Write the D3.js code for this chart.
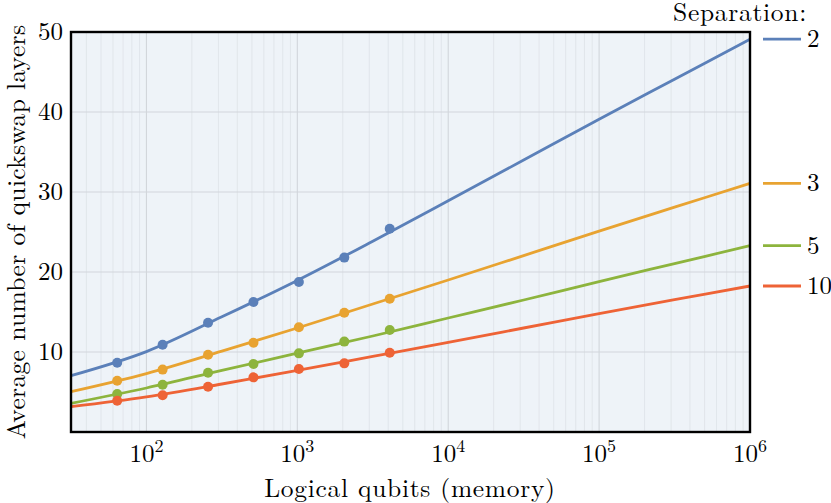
<!DOCTYPE html>
<html>
<head>
<meta charset="utf-8">
<script src="https://cdn.jsdelivr.net/npm/d3@7"></script>
<style>
  body { margin: 0; background: #fff; }
</style>
</head>
<body>
<svg width="831" height="503"></svg>
<script>
const width = 831;
const height = 503;
const font = "'Latin Modern Roman', 'DejaVu Serif', serif";

// logical qubits where the averages were measured
const sizes = [64, 128, 256, 512, 1024, 2048, 4096];
const separations = ["2", "3", "5", "10"];
const colors = ["#5b80b9", "#e8a331", "#8db43d", "#ee6336"];

// measured averages, one array per separation
const measured2 = [8.66, 10.9, 13.66, 16.25, 18.75, 21.8, 25.4];
const measured3 = [6.4, 7.8, 9.66, 11.16, 13.1, 14.9, 16.66];
const measured5 = [4.75, 5.9, 7.4, 8.5, 9.83, 11.3, 12.75];
const measured10 = [3.9, 4.6, 5.66, 6.83, 7.87, 8.58, 9.91];

// fitted curves, read every half decade from 10^1.5 to 10^6
const fitQubits = [31.62, 100, 316.2, 1000, 3162, 1e4, 31620, 1e5, 316200, 1e6];
const fit2 = [7.04, 10.05, 14.4, 18.95, 23.85, 28.9, 34.0, 39.1, 44.1, 49.1];
const fit3 = [5.04, 7.3, 10.1, 13.0, 16.0, 19.0, 22.05, 25.1, 28.1, 31.08];
const fit5 = [3.58, 5.5, 7.7, 9.85, 12.0, 14.25, 16.5, 18.8, 21.05, 23.3];
const fit10 = [3.17, 4.4, 6.0, 7.7, 9.45, 11.2, 13.0, 14.8, 16.55, 18.25];

const yTicks = [10, 20, 30, 40, 50];
const xTicks = [1e2, 1e3, 1e4, 1e5, 1e6];
const xTickExp = ["2", "3", "4", "5", "6"];

const measured = [measured2, measured3, measured5, measured10];
const fits = [fit2, fit3, fit5, fit10];

const margin = { left: 71, right: 81, top: 32, bottom: 71 };

const x = d3.scaleLog()
  .domain([Math.pow(10, 1.5), 1e6])
  .range([margin.left, width - margin.right]);

const y = d3.scaleLinear()
  .domain([0, 50])
  .range([height - margin.bottom, margin.top]);

const svg = d3.select('svg')
  .attr('font-family', font);

// plot background
svg.append('rect')
  .attr('x', x.range()[0])
  .attr('y', y.range()[1])
  .attr('width', x.range()[1] - x.range()[0])
  .attr('height', y.range()[0] - y.range()[1])
  .attr('fill', '#eef3f8');

// minor x grid
const minorTicks = [];
for (let e = 1; e < 6; e++) {
  for (let m = 2; m <= 9; m++) {
    const v = m * Math.pow(10, e);
    if (v > x.domain()[0] && v < x.domain()[1]) minorTicks.push(v);
  }
}

const grid = svg.append('g');
grid.selectAll('.minor')
  .data(minorTicks)
  .enter().append('line')
    .attr('x1', d => x(d)).attr('x2', d => x(d))
    .attr('y1', y.range()[0]).attr('y2', y.range()[1])
    .attr('stroke', '#dde2e7')
    .attr('stroke-width', 0.8);

grid.selectAll('.major')
  .data(xTicks)
  .enter().append('line')
    .attr('x1', d => x(d)).attr('x2', d => x(d))
    .attr('y1', y.range()[0]).attr('y2', y.range()[1])
    .attr('stroke', '#d2d6db')
    .attr('stroke-width', 1.1);

grid.selectAll('.ygrid')
  .data(yTicks)
  .enter().append('line')
    .attr('x1', x.range()[0]).attr('x2', x.range()[1])
    .attr('y1', d => y(d)).attr('y2', d => y(d))
    .attr('stroke', '#d2d6db')
    .attr('stroke-width', 1.1);

// fitted curves
const line = d3.line()
  .x(d => x(d[0]))
  .y(d => y(d[1]))
  .curve(d3.curveCatmullRom);

svg.append('g')
  .selectAll('path')
  .data(fits)
  .enter().append('path')
    .attr('d', f => line(f.map((v, i) => [fitQubits[i], v])))
    .attr('fill', 'none')
    .attr('stroke', (f, i) => colors[i])
    .attr('stroke-width', 2.8);

// measured points
measured.forEach((series, i) => {
  svg.append('g')
    .selectAll('circle')
    .data(series)
    .enter().append('circle')
      .attr('cx', (d, j) => x(sizes[j]))
      .attr('cy', d => y(d))
      .attr('r', 5)
      .attr('fill', colors[i]);
});

// frame
svg.append('rect')
  .attr('x', x.range()[0])
  .attr('y', y.range()[1])
  .attr('width', x.range()[1] - x.range()[0])
  .attr('height', y.range()[0] - y.range()[1])
  .attr('fill', 'none')
  .attr('stroke', '#000')
  .attr('stroke-width', 2.4);

// y tick labels
svg.append('g')
  .selectAll('text')
  .data(yTicks)
  .enter().append('text')
    .attr('x', x.range()[0] - 8)
    .attr('y', d => y(d))
    .attr('dy', '0.32em')
    .attr('text-anchor', 'end')
    .attr('font-size', 25)
    .text(d => d);

// x tick labels as 10^n
const xLabels = svg.append('g')
  .selectAll('text')
  .data(xTicks)
  .enter().append('text')
    .attr('x', d => x(d))
    .attr('y', 462)
    .attr('text-anchor', 'middle')
    .attr('font-size', 25);
xLabels.append('tspan').text('10');
xLabels.append('tspan')
  .attr('dy', -10)
  .attr('font-size', 18)
  .text((d, i) => xTickExp[i]);

// axis titles
svg.append('text')
  .attr('x', 410)
  .attr('y', 497)
  .attr('text-anchor', 'middle')
  .attr('font-size', 25.5)
  .attr('letter-spacing', 0.7)
  .text('Logical qubits (memory)');

svg.append('text')
  .attr('transform', 'translate(25,' + (y.range()[0] + y.range()[1]) / 2 + ') rotate(-90)')
  .attr('text-anchor', 'middle')
  .attr('font-size', 25.5)
  .attr('letter-spacing', 0.35)
  .text('Average number of quickswap layers');

// legend placed at the end value of each curve
svg.append('text')
  .attr('x', 740)
  .attr('y', 21)
  .attr('text-anchor', 'middle')
  .attr('font-size', 25.5)
  .attr('letter-spacing', 0.7)
  .text('Separation:');

const legend = svg.append('g')
  .selectAll('g')
  .data(separations)
  .enter().append('g')
    .attr('transform', (d, i) => 'translate(0,' + y(fits[i][fits[i].length - 1]) + ')');

legend.append('line')
  .attr('x1', 763).attr('x2', 801)
  .attr('stroke', (d, i) => colors[i])
  .attr('stroke-width', 2.8);

legend.append('text')
  .attr('x', 807)
  .attr('dy', '0.32em')
  .attr('font-size', 25)
  .text(d => d);
</script>
</body>
</html>
